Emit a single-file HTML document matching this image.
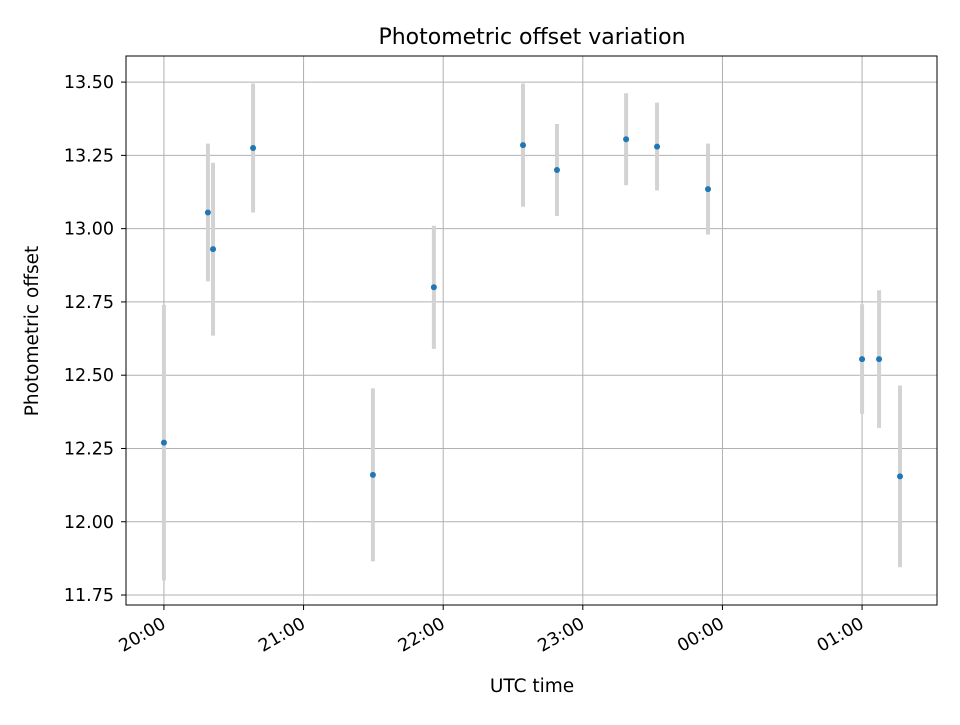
<!DOCTYPE html>
<html><head><meta charset="utf-8"><style>
body{margin:0;background:#fff;font-family:"Liberation Sans","DejaVu Sans",sans-serif}
svg text{font-family:"DejaVu Sans","Liberation Sans",sans-serif;fill:#000}
</style></head><body>
<svg id="chart" width="960" height="720" xmlns="http://www.w3.org/2000/svg">
<rect width="960" height="720" fill="#fff"/>
<g id="grid"></g>
<g id="marks"></g>
<rect x="126" y="56" width="811" height="549" fill="none" stroke="#000" stroke-width="1"/>
<g id="axes"></g>
<text x="532" y="44" font-size="22" text-anchor="middle">Photometric offset variation</text>
<text x="532" y="692" font-size="18.5" text-anchor="middle">UTC time</text>
<text transform="translate(38,331) rotate(-90)" font-size="18.5" text-anchor="middle">Photometric offset</text>
</svg>
<script>
// minutes after 20:00 UTC
const times=[0,18.9,21.1,38.3,89.8,116,154.3,168.9,198.6,211.9,233.8,300,307.3,316.3];
const offsets=[12.27,13.055,12.93,13.275,12.16,12.80,13.285,13.20,13.305,13.28,13.135,12.555,12.555,12.155];
const errors=[0.47,0.235,0.295,0.22,0.295,0.21,0.21,0.157,0.157,0.15,0.155,0.187,0.235,0.31];
const yTicks=[11.75,12.00,12.25,12.50,12.75,13.00,13.25,13.50];
const xTickMinutes=[0,60,120,180,240,300];
const xTickLabels=["20:00","21:00","22:00","23:00","00:00","01:00"];
const NS="http://www.w3.org/2000/svg";
const L=126,R=937,T=56,B=605;
const xMin=-16.3,xMax=332.2,yMin=11.716,yMax=13.589;
const xs=v=>L+(v-xMin)/(xMax-xMin)*(R-L);
const ys=v=>B-(v-yMin)/(yMax-yMin)*(B-T);
function mk(tag,attrs,parent){const e=document.createElementNS(NS,tag);for(const k in attrs)e.setAttribute(k,attrs[k]);parent.appendChild(e);return e;}
const grid=document.getElementById('grid'),axes=document.getElementById('axes'),marks=document.getElementById('marks');
yTicks.forEach(t=>{const y=ys(t);
 let g=mk('line',{x1:L,x2:R,y1:y,y2:y,stroke:'#b0b0b0','stroke-width':1},grid);
 
 
 let tk=mk('line',{x1:L-5,x2:L,y1:y,y2:y,stroke:'#000'},axes);
 
 
 let tx=mk('text',{x:L-12,y:y+6,'font-size':17.5,'text-anchor':'end'},axes);
 tx.textContent=t.toFixed(2);
 
 
});
xTickMinutes.forEach((m,i)=>{const x=xs(m);
 let g=mk('line',{x1:x,x2:x,y1:T,y2:B,stroke:'#b0b0b0','stroke-width':1},grid);
 
 
 let tk=mk('line',{x1:x,x2:x,y1:B,y2:B+5,stroke:'#000'},axes);
 
 
 let tx=mk('text',{x:0,y:0,'font-size':17.5,'text-anchor':'end',transform:`translate(${x+3},${B+22}) rotate(-30)`},axes);
 tx.textContent=xTickLabels[i];
 
 
});
times.forEach((t,i)=>{const x=xs(t);
 let e=mk('line',{x1:x,x2:x,y1:ys(offsets[i]-errors[i]),y2:ys(offsets[i]+errors[i]),stroke:'#d3d3d3','stroke-width':4},marks);
 
 
});
times.forEach((t,i)=>{
 let c=mk('circle',{cx:xs(t),cy:ys(offsets[i]),r:3,fill:'#1f77b4'},marks);
 
 
});
</script>
</body></html>
